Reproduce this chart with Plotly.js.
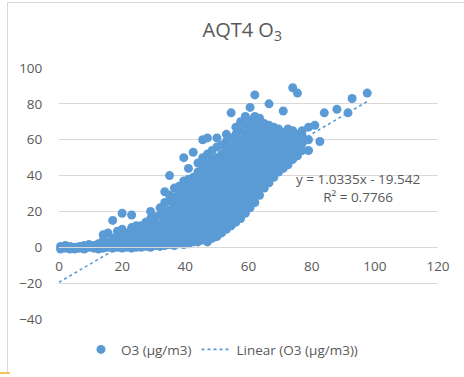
<!DOCTYPE html>
<html>
<head>
<meta charset="utf-8">
<script src="https://cdn.plot.ly/plotly-3.0.1.min.js"></script>
<style>
html,body{margin:0;padding:0;background:#fff;}
#frame{position:absolute;left:7px;top:2px;width:470px;height:371px;border-left:1px solid #d9d9d9;border-top:1px solid #d9d9d9;}
#mark{position:absolute;left:0;top:372px;width:10px;height:2px;background:#f2c45a;}
#plot{position:absolute;left:0;top:0;width:464px;height:377px;}
</style>
</head>
<body>
<div id="frame"></div>
<div id="mark"></div>
<div id="plot"></div>
<script>
// O3 (ug/m3) scatter points
const xVals = [
0.5,0.5, 2,2, 3.5,3.5, 5,5, 6.5,6.5, 8,8, 9.5,9.5, 11,11, 12.5,12.5,12.5,
14,14,14,14, 15.5,15.5,15.5, 17,17,17,17, 18.5,18.5,18.5,18.5,
20,20,20,20,20,20, 21.5,21.5,21.5,21.5, 23,23,23,23,23,23, 24.5,24.5,24.5,24.5,24.5,
26,26,26,26,26, 27.5,27.5,27.5,27.5,27.5, 29,29,29,29,29,29,29, 30.5,30.5,30.5,30.5,30.5,30.5,
32,32,32,32,32,32,32, 33.5,33.5,33.5,33.5,33.5,33.5,33.5,33.5,
35,35,35,35,35,35,35,35,35, 36.5,36.5,36.5,36.5,36.5,36.5,36.5,36.5,36.5,
38,38,38,38,38,38,38,38,38, 39.5,39.5,39.5,39.5,39.5,39.5,39.5,39.5,39.5,39.5,39.5,
41,41,41,41,41,41,41,41,41,41,41, 42.5,42.5,42.5,42.5,42.5,42.5,42.5,42.5,42.5,42.5,42.5,
44,44,44,44,44,44,44,44,44,44,44,44,
45.5,45.5,45.5,45.5,45.5,45.5,45.5,45.5,45.5,45.5,45.5,45.5,45.5,
47,47,47,47,47,47,47,47,47,47,47,47,47,47,
48.5,48.5,48.5,48.5,48.5,48.5,48.5,48.5,48.5,48.5,48.5,48.5,48.5,
50,50,50,50,50,50,50,50,50,50,50,50,50,50,
51.5,51.5,51.5,51.5,51.5,51.5,51.5,51.5,51.5,51.5,51.5,51.5,51.5,
53,53,53,53,53,53,53,53,53,53,53,53,53,53,
54.5,54.5,54.5,54.5,54.5,54.5,54.5,54.5,54.5,54.5,54.5,54.5,54.5,54.5,
56,56,56,56,56,56,56,56,56,56,56,56,56,56,
57.5,57.5,57.5,57.5,57.5,57.5,57.5,57.5,57.5,57.5,57.5,57.5,57.5,57.5,
59,59,59,59,59,59,59,59,59,59,59,59,59,59,
60.5,60.5,60.5,60.5,60.5,60.5,60.5,60.5,60.5,60.5,60.5,60.5,60.5,60.5,
62,62,62,62,62,62,62,62,62,62,62,62,62,62,
63.5,63.5,63.5,63.5,63.5,63.5,63.5,63.5,63.5,63.5,63.5,63.5,
65,65,65,65,65,65,65,65,65,65,
66.5,66.5,66.5,66.5,66.5,66.5,66.5,66.5,66.5,66.5,
68,68,68,68,68,68,68,68,
69.5,69.5,69.5,69.5,69.5,69.5,69.5,
71,71,71,71,71,71,71,
72.5,72.5,72.5,72.5,72.5,72.5,
74,74,74,74,74,74,
75.5,75.5,75.5,75.5,75.5,
77,77,77,77,
79,79,79, 81, 82.6, 84, 88, 91.5, 92.8, 97.6
];
const yVals = [
-1,0.5, -0.5,1, -1,0.5, 0,-1, 0.5,-0.5, -1,1, 0,1.5, -0.5,1, 0,2,-1,
1,4,7,-0.5, 0,3,8, -0.5,2,5,15, 0,3,6,9,
-0.5,1,4,7,10,19, 0,2,5,8, -0.5,1,4,7,11,18, 0,3,6,9,12,
0,2,5,8,12, 0.5,3,6,10,14, 0,2,5,8,12,16,20, 1,4,7,10,14,17,
0.5,3,6,9,13,18,22, 1,4,8,12,16,20,25,31,
1.5,5,9,13,17,21,26,29,40, 1,4,8,12,16,20,24,28,33,
2,6,10,14,18,22,26,30,34, 1.5,5,9,13,17,21,25,29,33,37,50,
2,6,10,14,18,22,26,30,34,38,44, 3,7,11,15,19,23,27,31,35,39,53,
3,6,10,14,18,22,26,30,34,38,42,47,
4,8,12,16,20,24,28,32,36,40,45,50,60,
3,7,11,15,19,23,27,31,35,39,43,47,52,61,
5,9,13,17,21,25,29,33,37,41,45,49,54,
6,10,14,18,22,26,30,34,38,42,46,50,56,61,
8,12,16,20,24,28,32,36,40,44,48,52,57,
10,14,18,22,26,30,34,38,42,46,50,54,59,63,
12,16,20,24,28,32,36,40,44,48,52,56,61,75,
14,18,22,26,30,34,38,42,46,50,54,58,63,67,
16,20,24,28,32,36,40,44,48,52,56,60,65,70,
19,23,27,31,35,39,43,47,51,55,59,63,68,73,
22,26,30,34,38,42,46,50,54,58,62,66,71,78,
25,29,33,37,41,45,49,53,57,61,65,69,73,85,
29,33,37,41,45,49,53,57,61,65,69,72,
33,37,41,45,49,53,57,61,65,69,
36,40,44,48,52,56,60,64,68,80,
39,43,47,51,55,59,63,67,
42,46,50,54,58,62,66,
44,48,52,56,60,64,76,
46,50,54,58,62,66,
49,53,57,61,65,89,
51,55,59,63,86,
54,58,62,65,
54,60,67, 68, 59, 75, 77, 75, 83, 86
];
// Linear trendline shown on the chart
const slope = 1.0335;
const intercept = -19.542;
const r2 = 0.7766;
const trendX = [0, 97.6];
const trendY = trendX.map(v => slope * v + intercept);

const xTicks = [0, 20, 40, 60, 80, 100, 120];
const yTicks = [-40, -20, 0, 20, 40, 60, 80, 100];

const blue = '#5b9bd5';
const grey = '#595959';
const font = '"Open Sans", "Liberation Sans", sans-serif';

const traces = [
  {x: xVals, y: yVals, type: 'scatter', mode: 'markers', name: 'O3 (μg/m3)',
   marker: {color: blue, size: 9}, cliponaxis: false},
  {x: trendX, y: trendY, type: 'scatter', mode: 'lines', name: 'Linear (O3 (μg/m3))',
   line: {color: blue, width: 1.6, dash: 'dot'}}
];

const layout = {
  width: 464, height: 377,
  margin: {l: 59, r: 26, t: 68, b: 55},
  paper_bgcolor: 'rgba(0,0,0,0)', plot_bgcolor: 'rgba(0,0,0,0)',
  font: {family: font, color: grey, size: 13},
  title: {text: 'AQT4 O<sub>3</sub>', font: {family: font, size: 20, color: grey},
          x: 0.522, xanchor: 'center', y: 0.92, yanchor: 'middle', xref: 'container', yref: 'container'},
  showlegend: true,
  legend: {orientation: 'h', x: 0.43, xanchor: 'center', y: -0.122, yanchor: 'middle',
           font: {family: font, size: 13.5, color: grey}, bgcolor: 'rgba(0,0,0,0)'},
  xaxis: {range: [0, 120], tickvals: xTicks, showgrid: false, zeroline: false,
          anchor: 'free', position: 2/7, showline: true, linecolor: '#d9d9d9', linewidth: 1,
          ticks: 'outside', ticklen: 7, tickcolor: 'rgba(0,0,0,0)',
          tickfont: {family: font, size: 13.5, color: grey}, fixedrange: true},
  yaxis: {range: [-40, 100], tickvals: yTicks, showgrid: true, gridcolor: '#d9d9d9', gridwidth: 1,
          zeroline: false, showline: false, ticks: 'outside', ticklen: 13, tickcolor: 'rgba(0,0,0,0)',
          tickfont: {family: font, size: 13.5, color: grey}, fixedrange: true},
  annotations: [{
    xref: 'x', yref: 'y', x: 94.6, y: 33, showarrow: false, align: 'center',
    text: 'y = ' + slope + 'x - ' + Math.abs(intercept) + '<br>R² = ' + r2,
    font: {family: font, size: 13.5, color: grey}
  }]
};

Plotly.newPlot('plot', traces, layout, {displayModeBar: false, staticPlot: true});
</script>
</body>
</html>
